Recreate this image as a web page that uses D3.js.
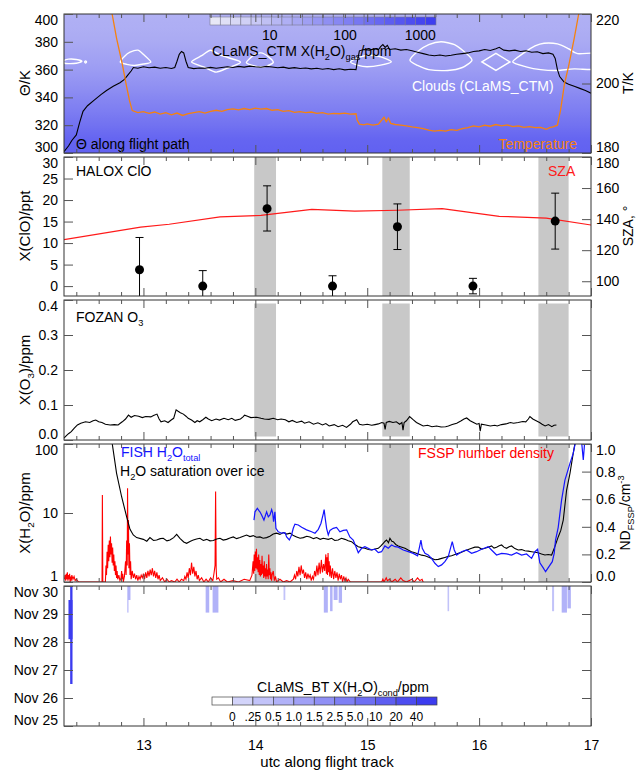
<!DOCTYPE html>
<html><head><meta charset="utf-8">
<script src="https://cdn.jsdelivr.net/npm/d3@7"></script>
<style>body{margin:0;background:#fff}svg{display:block}</style>
</head><body><svg id="c" width="636" height="772"></svg>
<script>
// ---------------- DATA ----------------
const timeTicks = [13, 14, 15, 16, 17];
const thetaTicks = [300, 320, 340, 360, 380, 400];
const tempTicks = [180, 200, 220];
const cloTicks = [0, 5, 10, 15, 20, 25, 30];
const szaTicks = [100, 120, 140, 160, 180];
const o3Ticks = [0, 0.1, 0.2, 0.3, 0.4];
const h2oTicks = [1, 10, 100];
const ndTicks = [0, 0.2, 0.4, 0.6, 0.8, 1.0];
const dayTicks = [25, 26, 27, 28, 29, 30];
const dayLabels = ["Nov 25", "Nov 26", "Nov 27", "Nov 28", "Nov 29", "Nov 30"];
const ctmBarTicks = [10, 100, 1000];
const btLevels = [0, 0.25, 0.5, 1.0, 1.5, 2.5, 5.0, 10, 20, 40];
const btLevelLabels = ["0", ".25", "0.5", "1.0", "1.5", "2.5", "5.0", "10", "20", "40"];

// shaded intervals (utc hours)
const bandStart = [13.99, 15.135, 16.53];
const bandEnd = [14.185, 15.38, 16.80];

// CLaMS_CTM H2O(gas) profile vs theta [K, ppm]
const ctmProfile = [[300,360],[305,330],[310,300],[315,240],[320,185],[325,150],[330,120],[335,100],[340,80],[345,65],[350,52],[355,43],[360,36],[365,31],[370,27],[375,24],[380,21],[385,19.5],[390,18],[395,17],[400,16]];

// Theta along flight path [utc, K]
const theta = [[12.29,301],[12.33,305],[12.36,309],[12.40,313],[12.43,322],[12.46,330],[12.50,334],[12.56,338],[12.62,342],[12.67,345],[12.73,348],[12.79,350.5],[12.83,353],[12.86,356],[12.89,359],[12.91,361.5],[12.95,361],[13.0,362],[13.05,361.3],[13.1,361.8],[13.15,361],[13.2,361.5],[13.25,360.8],[13.28,361.5],[13.30,366],[13.32,371],[13.34,373],[13.36,372],[13.38,366],[13.40,361.5],[13.45,360.7],[13.5,361.2],[13.55,361],[13.6,361.6],[13.65,361],[13.7,361.5],[13.75,362],[13.8,361.5],[13.85,362.3],[13.9,361.8],[13.95,362.5],[14.0,362],[14.05,361.7],[14.1,362.3],[14.15,361.9],[14.2,361.3],[14.25,361.8],[14.3,360.9],[14.35,361.4],[14.4,360.8],[14.45,361.2],[14.5,360.5],[14.55,361],[14.6,360.3],[14.65,360.8],[14.7,360],[14.75,360.6],[14.8,359.8],[14.85,360.3],[14.9,360],[14.91,365],[14.93,373.5],[14.97,374.5],[15.02,374],[15.07,375],[15.1,374.3],[15.12,376.5],[15.14,378],[15.16,376],[15.18,377.5],[15.2,374.5],[15.25,375],[15.3,374],[15.35,374.5],[15.4,373.5],[15.45,372.5],[15.5,371.5],[15.55,370.5],[15.6,370],[15.65,370.5],[15.7,369.8],[15.75,370.3],[15.8,371],[15.85,371.5],[15.9,372],[15.95,373],[16.0,373.5],[16.05,374.5],[16.1,373.8],[16.15,375],[16.18,376],[16.22,374],[16.27,373.5],[16.32,374],[16.37,373],[16.42,373.5],[16.47,372.5],[16.52,372.8],[16.57,371.5],[16.62,372],[16.66,371],[16.68,368],[16.70,360],[16.72,355],[16.76,351],[16.8,349.5],[16.85,348],[16.9,346.5],[16.95,345],[17.0,343]];

// Temperature [utc, K]
const temperature = [[12.70,223],[12.72,220],[12.76,213],[12.81,205.7],[12.85,199],[12.876,195],[12.90,192.2],[12.95,191.6],[13.0,191.9],[13.05,191.4],[13.1,191.8],[13.15,191.2],[13.2,191.6],[13.25,191.0],[13.3,191.5],[13.35,190.8],[13.4,191.3],[13.45,191.6],[13.5,191.9],[13.55,191.5],[13.6,192.0],[13.65,192.3],[13.7,192.0],[13.75,192.5],[13.8,192.7],[13.85,192.4],[13.9,192.8],[13.95,192.5],[14.0,192.9],[14.05,192.6],[14.1,192.8],[14.15,192.3],[14.2,192.5],[14.25,192.0],[14.3,192.2],[14.35,191.7],[14.4,191.9],[14.45,191.6],[14.5,191.8],[14.55,191.4],[14.6,191.6],[14.65,191.2],[14.7,191.4],[14.75,191.3],[14.8,191.5],[14.85,191.2],[14.9,191.3],[14.91,189.5],[14.93,188.3],[14.97,188.1],[15.0,188.4],[15.05,188.0],[15.1,188.3],[15.13,189.5],[15.15,190.3],[15.17,189.0],[15.19,190.0],[15.21,188.5],[15.25,188.2],[15.3,188.0],[15.35,187.8],[15.4,187.5],[15.45,187.3],[15.5,187.0],[15.55,186.6],[15.6,186.3],[15.65,186.5],[15.7,186.3],[15.75,186.7],[15.8,186.5],[15.85,187.0],[15.9,187.3],[15.95,187.8],[16.0,187.5],[16.05,188.0],[16.1,187.7],[16.15,188.2],[16.2,187.8],[16.25,188.1],[16.3,187.6],[16.35,187.8],[16.4,187.4],[16.45,187.6],[16.5,187.3],[16.55,187.4],[16.6,186.8],[16.63,187.3],[16.66,187.5],[16.70,188],[16.727,192.2],[16.745,196],[16.763,199.9],[16.80,205],[16.85,213],[16.89,220],[16.91,223]];

// CLaMS_CTM cloud contours [utc, K]
const cloudA = [[12.29,366.5],[12.33,367.5],[12.40,367.3],[12.45,366],[12.40,364.6],[12.33,364.3],[12.29,364.8]];
const cloudA2 = [[12.475,365.5],[12.483,366.3],[12.491,365.5],[12.483,364.7]];
const cloudB = [[12.793,365.5],[12.83,369.5],[12.88,372.5],[12.95,374],[13.0,371],[13.066,365.5],[13.0,364],[12.92,363],[12.85,363.8]];
const cloudC = [[13.43,365.5],[13.52,370],[13.60,373.9],[13.70,370],[13.867,365.5],[13.75,361],[13.65,358.2],[13.55,361.5]];
const cloudD = [[13.92,365],[13.98,370],[14.05,372],[14.12,369],[14.16,365],[14.08,362],[14.0,362.5]];
const cloudE = [[14.851,365.5],[14.93,369],[15.03,370.3],[15.13,369],[15.215,365.5],[15.12,363.2],[15.0,362],[14.92,363]];
const cloudF = [[15.382,366.7],[15.45,373],[15.55,378],[15.66,380],[15.78,378],[15.88,372],[15.936,366.7],[15.85,361.5],[15.72,359.4],[15.55,360],[15.45,363]];
const cloudG = [[16.025,365.5],[16.15,371.7],[16.276,365.5],[16.15,359.4]];
const cloudH = [[16.30,365.5],[16.40,372],[16.50,377],[16.58,379],[16.70,378.5],[16.80,375],[16.88,371.5],[17.1,371.5],[17.1,360.5],[16.85,360.5],[16.70,359.4],[16.55,360],[16.42,362]];

// HALOX ClO [utc, ppt, low, high]
const cloTime = [12.965, 13.53, 14.105, 14.69, 15.27, 15.945, 16.68];
const cloValue = [3.8, 0, 18.0, 0, 13.8, 0, 15.1];
const cloLow = [-4.0, -3.5, 12.8, -2.4, 8.5, -1.8, 8.6];
const cloHigh = [11.3, 3.6, 23.3, 2.4, 19.1, 1.8, 21.6];

// SZA [utc, deg]
const sza = [[12.29,126.8],[12.975,134.9],[13.23,136.7],[13.685,141.4],[14.05,142.4],[14.505,146.3],[14.888,145.2],[15.27,145.7],[15.67,146.8],[16.18,141.8],[16.60,140.7],[17.0,136.2]];

// FOZAN O3 [utc, ppm]
const ozone = [[12.29,0.005],[12.30,0.009],[12.33,0.018],[12.355,0.024],[12.38,0.033],[12.41,0.043],[12.44,0.048],[12.483,0.052],[12.52,0.05],[12.55,0.055],[12.574,0.057],[12.6,0.052],[12.629,0.05],[12.66,0.045],[12.702,0.043],[12.74,0.044],[12.774,0.043],[12.79,0.047],[12.811,0.052],[12.84,0.06],[12.866,0.071],[12.89,0.065],[12.92,0.07],[12.957,0.068],[12.99,0.064],[13.02,0.067],[13.066,0.066],[13.09,0.07],[13.121,0.074],[13.14,0.06],[13.157,0.052],[13.19,0.055],[13.22,0.05],[13.248,0.057],[13.27,0.062],[13.292,0.086],[13.31,0.082],[13.33,0.078],[13.357,0.074],[13.38,0.068],[13.40,0.062],[13.43,0.057],[13.46,0.05],[13.48,0.055],[13.503,0.052],[13.53,0.058],[13.558,0.065],[13.58,0.06],[13.61,0.055],[13.649,0.06],[13.68,0.057],[13.72,0.062],[13.758,0.058],[13.79,0.062],[13.82,0.056],[13.867,0.06],[13.89,0.066],[13.904,0.071],[13.93,0.068],[13.96,0.064],[14.013,0.065],[14.05,0.062],[14.08,0.06],[14.122,0.059],[14.16,0.062],[14.2,0.058],[14.23,0.06],[14.268,0.058],[14.3,0.052],[14.33,0.056],[14.37,0.05],[14.414,0.054],[14.44,0.048],[14.48,0.052],[14.52,0.045],[14.559,0.049],[14.6,0.043],[14.63,0.047],[14.66,0.04],[14.705,0.044],[14.74,0.038],[14.78,0.042],[14.815,0.036],[14.85,0.045],[14.87,0.052],[14.906,0.058],[14.93,0.045],[14.96,0.043],[15.0,0.045],[15.04,0.042],[15.07,0.044],[15.1,0.046],[15.13,0.05],[15.15,0.048],[15.16,0.03],[15.17,0.05],[15.197,0.053],[15.23,0.05],[15.26,0.052],[15.29,0.045],[15.31,0.05],[15.32,0.028],[15.33,0.05],[15.35,0.055],[15.379,0.067],[15.41,0.058],[15.44,0.05],[15.47,0.045],[15.5,0.04],[15.54,0.042],[15.579,0.038],[15.62,0.04],[15.66,0.037],[15.7,0.038],[15.725,0.04],[15.76,0.044],[15.8,0.048],[15.84,0.055],[15.865,0.06],[15.889,0.063],[15.92,0.055],[15.95,0.05],[15.98,0.045],[16.0,0.047],[16.01,0.025],[16.02,0.045],[16.06,0.043],[16.1,0.04],[16.14,0.042],[16.162,0.04],[16.2,0.044],[16.24,0.046],[16.28,0.05],[16.308,0.048],[16.35,0.05],[16.39,0.053],[16.417,0.052],[16.44,0.06],[16.454,0.067],[16.48,0.06],[16.51,0.055],[16.54,0.05],[16.563,0.045],[16.59,0.04],[16.62,0.044],[16.65,0.038],[16.67,0.042],[16.691,0.043]];

// FISH H2O total [utc, ppm]
const fishH2O = [[13.988,7.9],[13.997,10.4],[14.018,11.7],[14.032,10.8],[14.041,10.4],[14.056,9.35],[14.077,7.9],[14.092,9.4],[14.101,10.4],[14.116,8.8],[14.131,9.35],[14.146,11.2],[14.155,10.0],[14.163,7.5],[14.175,10.4],[14.184,6.0],[14.205,5.35],[14.235,5.1],[14.265,5.2],[14.28,4.5],[14.304,4.06],[14.324,4.8],[14.339,6.0],[14.354,6.9],[14.384,6.7],[14.414,6.2],[14.458,5.7],[14.503,5.35],[14.533,5.1],[14.563,5.8],[14.587,7.1],[14.607,9.7],[14.615,11.2],[14.625,8.3],[14.637,6.0],[14.652,4.8],[14.667,5.6],[14.696,6.0],[14.726,6.2],[14.756,5.35],[14.786,5.6],[14.816,5.7],[14.845,4.5],[14.875,4.06],[14.905,3.08],[14.92,2.66],[14.95,3.08],[14.979,3.25],[15.009,3.08],[15.039,2.91],[15.069,2.98],[15.099,2.66],[15.128,2.75],[15.158,3.33],[15.188,3.08],[15.218,3.44],[15.248,3.25],[15.277,3.2],[15.322,2.91],[15.367,2.75],[15.411,2.6],[15.45,2.4],[15.468,3.25],[15.48,4.06],[15.492,3.08],[15.516,2.6],[15.545,2.46],[15.575,2.2],[15.605,1.87],[15.635,1.67],[15.665,1.77],[15.694,1.97],[15.724,2.33],[15.748,3.25],[15.76,3.84],[15.778,2.91],[15.799,2.46],[15.843,2.75],[15.888,2.91],[15.933,2.6],[15.977,2.75],[16.022,2.98],[16.082,3.25],[16.111,2.91],[16.156,2.46],[16.201,2.6],[16.245,2.55],[16.29,2.46],[16.335,2.66],[16.38,2.46],[16.424,2.55],[16.469,2.2],[16.499,2.75],[16.523,2.98],[16.543,1.9],[16.573,1.6],[16.594,1.41],[16.624,1.67],[16.654,1.97],[16.671,2.6],[16.683,4.06],[16.707,6.2],[16.737,15.4],[16.767,30],[16.812,52.5],[16.841,73],[16.862,108],[16.886,130],[16.916,108],[16.931,58.6],[16.945,115],[16.96,150]];

// H2O saturation over ice [utc, ppm]
const iceSat = [[12.70,150],[12.716,115],[12.76,37.6],[12.805,17.2],[12.85,8.8],[12.88,5.8],[12.909,4.8],[12.939,4.4],[12.999,4.15],[13.03,3.9],[13.058,4.4],[13.09,4.0],[13.118,4.06],[13.15,4.25],[13.177,4.3],[13.21,3.95],[13.237,4.06],[13.27,4.4],[13.297,4.9],[13.326,4.3],[13.36,3.8],[13.386,3.64],[13.42,3.9],[13.446,4.06],[13.475,4.2],[13.505,4.3],[13.535,4.0],[13.565,4.15],[13.595,3.95],[13.624,4.0],[13.655,4.2],[13.684,4.3],[13.713,4.05],[13.743,4.15],[13.773,4.35],[13.803,4.5],[13.833,4.25],[13.863,4.4],[13.893,4.6],[13.922,4.8],[13.952,4.55],[13.982,4.7],[14.01,4.45],[14.041,4.5],[14.07,4.3],[14.101,4.4],[14.13,4.6],[14.16,4.95],[14.19,5.1],[14.22,4.9],[14.25,5.2],[14.28,4.95],[14.31,5.1],[14.34,4.7],[14.369,4.5],[14.4,4.3],[14.429,4.4],[14.46,4.6],[14.488,4.5],[14.52,4.25],[14.548,4.4],[14.58,4.15],[14.607,4.3],[14.652,4.15],[14.682,4.3],[14.71,4.0],[14.741,4.06],[14.77,4.3],[14.801,4.15],[14.83,3.95],[14.86,3.84],[14.89,3.5],[14.92,3.25],[14.95,3.15],[14.979,3.08],[15.01,2.95],[15.039,2.91],[15.07,3.0],[15.099,3.08],[15.12,3.3],[15.143,3.64],[15.16,3.9],[15.173,4.06],[15.19,3.7],[15.203,4.3],[15.22,3.9],[15.233,3.84],[15.255,3.5],[15.277,3.33],[15.31,3.2],[15.337,3.08],[15.366,2.9],[15.396,2.75],[15.426,2.65],[15.456,2.55],[15.486,2.45],[15.516,2.4],[15.545,2.3],[15.575,2.2],[15.605,2.1],[15.635,2.13],[15.665,2.2],[15.694,2.27],[15.724,2.35],[15.754,2.4],[15.784,2.5],[15.814,2.6],[15.843,2.7],[15.873,2.83],[15.903,2.95],[15.933,3.08],[15.962,3.2],[15.992,3.2],[16.022,3.0],[16.052,3.08],[16.082,3.2],[16.111,3.33],[16.133,3.1],[16.156,3.2],[16.18,3.35],[16.201,3.44],[16.222,3.2],[16.245,3.08],[16.268,3.25],[16.29,3.33],[16.32,3.05],[16.35,2.91],[16.38,2.95],[16.409,2.83],[16.44,2.8],[16.469,2.75],[16.5,2.7],[16.528,2.66],[16.558,2.55],[16.588,2.46],[16.618,2.5],[16.648,2.46],[16.677,3.25],[16.707,4.5],[16.73,5.6],[16.752,7.9],[16.782,21.5],[16.812,37.6],[16.841,73],[16.862,114],[16.88,150]];

// FSSP number density [utc, cm^-3]
const fsspND = [[12.295,0.02],[12.30,0.05],[12.305,0.01],[12.31,0.06],[12.315,0.02],[12.32,0.07],[12.325,0.01],[12.33,0.05],[12.335,0.02],[12.34,0.06],[12.345,0.0],[12.35,0.04],[12.355,0.01],[12.36,0.05],[12.37,0.02],[12.38,0.04],[12.39,0.01],[12.40,0.02],[12.42,0.0],[12.50,0.0],[12.60,0.0],[12.63,0.0],[12.633,0.63],[12.637,0.0],[12.66,0.0],[12.665,0.12],[12.67,0.05],[12.675,0.22],[12.68,0.10],[12.685,0.27],[12.69,0.15],[12.695,0.30],[12.70,0.18],[12.705,0.33],[12.71,0.2],[12.715,0.28],[12.72,0.14],[12.725,0.25],[12.73,0.12],[12.735,0.2],[12.74,0.08],[12.745,0.15],[12.75,0.05],[12.755,0.12],[12.76,0.03],[12.765,0.08],[12.77,0.02],[12.78,0.05],[12.79,0.01],[12.80,0.03],[12.805,0.08],[12.81,0.02],[12.815,0.06],[12.82,0.0],[12.83,0.04],[12.84,0.15],[12.845,0.05],[12.85,0.3],[12.855,0.12],[12.858,0.68],[12.862,0.2],[12.866,0.45],[12.87,0.1],[12.875,0.28],[12.88,0.05],[12.885,0.15],[12.89,0.02],[12.90,0.08],[12.91,0.03],[12.92,0.06],[12.93,0.02],[12.94,0.05],[12.95,0.01],[12.96,0.04],[12.97,0.02],[12.98,0.05],[12.99,0.03],[13.0,0.06],[13.01,0.02],[13.02,0.07],[13.03,0.03],[13.04,0.08],[13.05,0.04],[13.06,0.09],[13.07,0.05],[13.08,0.1],[13.09,0.04],[13.10,0.08],[13.11,0.03],[13.12,0.07],[13.13,0.02],[13.14,0.05],[13.15,0.01],[13.17,0.03],[13.19,0.0],[13.21,0.02],[13.23,0.0],[13.25,0.01],[13.28,0.0],[13.3,0.02],[13.32,0.0],[13.34,0.02],[13.36,0.01],[13.37,0.04],[13.38,0.02],[13.39,0.07],[13.40,0.03],[13.41,0.1],[13.42,0.05],[13.43,0.14],[13.44,0.06],[13.45,0.11],[13.46,0.04],[13.47,0.08],[13.48,0.02],[13.49,0.05],[13.5,0.01],[13.52,0.03],[13.54,0.0],[13.56,0.02],[13.58,0.0],[13.60,0.03],[13.62,0.01],[13.63,0.06],[13.64,0.12],[13.645,0.655],[13.65,0.1],[13.655,0.02],[13.67,0.03],[13.69,0.0],[13.72,0.02],[13.75,0.0],[13.8,0.01],[13.85,0.0],[13.9,0.02],[13.95,0.01],[13.97,0.05],[13.98,0.15],[13.985,0.06],[13.99,0.2],[13.995,0.08],[14.0,0.22],[14.005,0.1],[14.01,0.24],[14.015,0.09],[14.02,0.18],[14.025,0.07],[14.03,0.2],[14.035,0.05],[14.04,0.16],[14.045,0.04],[14.05,0.13],[14.055,0.05],[14.06,0.19],[14.065,0.06],[14.07,0.12],[14.075,0.03],[14.08,0.15],[14.085,0.04],[14.09,0.1],[14.095,0.02],[14.1,0.13],[14.105,0.04],[14.11,0.09],[14.115,0.02],[14.12,0.2],[14.125,0.05],[14.13,0.1],[14.135,0.02],[14.14,0.07],[14.145,0.01],[14.15,0.05],[14.16,0.08],[14.17,0.01],[14.18,0.04],[14.19,0.0],[14.22,0.02],[14.25,0.0],[14.28,0.01],[14.31,0.0],[14.34,0.02],[14.35,0.05],[14.36,0.02],[14.37,0.08],[14.38,0.04],[14.39,0.11],[14.4,0.05],[14.41,0.12],[14.42,0.06],[14.43,0.09],[14.44,0.03],[14.45,0.07],[14.46,0.02],[14.47,0.06],[14.48,0.03],[14.49,0.05],[14.5,0.01],[14.51,0.04],[14.52,0.02],[14.53,0.08],[14.54,0.04],[14.55,0.12],[14.56,0.05],[14.57,0.14],[14.58,0.06],[14.59,0.16],[14.6,0.07],[14.61,0.13],[14.62,0.08],[14.63,0.2],[14.635,0.06],[14.64,0.18],[14.645,0.05],[14.65,0.21],[14.655,0.07],[14.66,0.15],[14.665,0.04],[14.67,0.12],[14.68,0.03],[14.69,0.1],[14.7,0.02],[14.71,0.08],[14.72,0.03],[14.73,0.07],[14.74,0.01],[14.75,0.06],[14.76,0.02],[14.77,0.05],[14.78,0.0],[14.79,0.04],[14.8,0.01],[14.81,0.03],[14.82,0.0],[14.83,0.02],[14.85,0.0],[14.9,0.0],[15.0,0.0],[15.13,0.0],[15.14,0.02],[15.15,0.0],[15.17,0.03],[15.18,0.01],[15.2,0.02],[15.22,0.0],[15.25,0.02],[15.27,0.0],[15.3,0.03],[15.32,0.01],[15.35,0.0],[15.4,0.02],[15.42,0.0],[15.45,0.03],[15.47,0.01],[15.49,0.02],[15.5,0.0]];

// CLaMS_BT condensed H2O along back trajectories: [utc start, utc end, day low, day high, ppm]
const btStart = [12.345, 12.330, 12.856, 12.862, 13.556, 13.618, 14.252, 14.612, 14.668, 14.700, 14.745, 15.718, 16.652, 16.738, 16.790];
const btEnd   = [12.366, 12.366, 12.866, 12.884, 13.588, 13.670, 14.268, 14.648, 14.690, 14.735, 14.775, 15.732, 16.670, 16.785, 16.820];
const btDayLow  = [26.5, 28.1, 29.05, 29.5, 29.05, 29.05, 29.5, 29.05, 29.1, 29.5, 29.4, 29.1, 29.1, 29.05, 29.2];
const btDayHigh = [30, 29.5, 30, 30, 30, 30, 30, 30, 30, 30, 30, 30, 30, 30, 30];
const btValue = [40, 40, 0.5, 0.5, 0.5, 0.5, 0.25, 0.5, 0.5, 0.5, 0.5, 0.25, 0.25, 0.5, 0.5];

// ---------------- DRAWING ----------------
const FONT = '"Liberation Sans", Arial, Helvetica, sans-serif';
const svg = d3.select("#c");
const L = 64, R = 591;
const P = {top:[14,153], clo:[157,296], o3:[300,440], h2o:[444,582], bt:[586,726]};

const x = d3.scaleLinear().domain([12.29, 17]).range([L, R]);
const yTheta = d3.scaleLinear().domain([300, 400]).range([P.top[1], P.top[0]]);
const yTemp = d3.scaleLinear().domain([180, 220]).range([P.top[1], P.top[0]]);
const yClo = d3.scaleLinear().domain([-2.3, 30]).range([P.clo[1], P.clo[0]]);
const ySza = d3.scaleLinear().domain([90.5, 180]).range([P.clo[1], P.clo[0]]);
const yO3 = d3.scaleLinear().domain([0, 0.4]).range([P.o3[1], P.o3[0]]);
const yH2O = d3.scaleLog().domain([1, 100]).range([P.h2o[1], P.h2o[0]]);
const yND = d3.scaleLinear().domain([0, 1]).range([P.h2o[1], P.h2o[0]]);
const yDay = d3.scaleLinear().domain([25, 30]).range([P.bt[1], P.bt[0]]);

const ctmInterp = d3.interpolateRgb("#ececf6", "#3a3aef");
const ctmNorm = d3.scaleLog().domain([1.6, 1620]).range([0, 1]).clamp(true);
const ctmColor = v => ctmInterp(ctmNorm(v));
const btCellColors = [ "#ffffff" ].concat(d3.range(10).map(i => d3.interpolateRgb("#d3d4fa", "#3c3cef")(i / 9)));
const btColor = d3.scaleThreshold().domain(btLevels).range(["#ffffff"].concat(btCellColors.slice(1)));

const defs = svg.append("defs");
function clip(id, p) {
  defs.append("clipPath").attr("id", id).append("rect")
    .attr("x", L).attr("y", p[0]).attr("width", R - L).attr("height", p[1] - p[0]);
  return `url(#${id})`;
}

function rich(sel, parts, fs) {
  let off = 0;
  parts.forEach(([s, t]) => {
    const ts = sel.append("tspan").text(s);
    const target = t === "sub" ? fs * 0.25 : t === "sup" ? -fs * 0.42 : 0;
    if (target !== off) ts.attr("dy", target - off);
    if (t === "sub" || t === "sup") ts.attr("font-size", fs * 0.66);
    off = target;
  });
  return sel;
}
function label(xp, yp, parts, opt = {}) {
  const fs = opt.fs || 14;
  const t = svg.append("text").attr("x", xp).attr("y", yp)
    .attr("font-family", FONT).attr("font-size", fs)
    .attr("fill", opt.fill || "#000").attr("text-anchor", opt.anchor || "start");
  return rich(t, parts, fs);
}
function vlabel(xp, yp, parts, opt = {}) {
  const fs = opt.fs || 15;
  const t = svg.append("text").attr("transform", `translate(${xp},${yp}) rotate(-90)`)
    .attr("font-family", FONT).attr("font-size", fs).attr("fill", "#000").attr("text-anchor", "middle");
  return rich(t, parts, fs);
}

function styleAxis(g) {
  g.select(".domain").remove();
  g.selectAll(".tick line").attr("stroke", "#555").attr("stroke-width", 1);
  g.attr("font-size", 14).attr("font-family", FONT);
  g.selectAll("text").attr("fill", "#000");
}
function yAxis(scale, vals, side, p, fmt) {
  let ax = (side === "left" ? d3.axisLeft(scale) : d3.axisRight(scale))
    .tickValues(vals).tickSize(-9).tickPadding(side === "left" ? 6 : 5);
  if (fmt) ax = ax.tickFormat(fmt);
  const g = svg.append("g").attr("transform", `translate(${side === "left" ? L : R},0)`).call(ax);
  styleAxis(g);
  g.selectAll(".tick").each(function (d) {
    const y = scale(d);
    const cy = Math.max(p[0] + 6, Math.min(p[1] - 6, y));
    d3.select(this).select("text").attr("y", cy - y);
  });
  return g;
}
const minorTimes = d3.range(12.4, 16.95, 0.2).filter(v => Math.abs(v - Math.round(v)) > 0.02);
function xAxes(p, withLabels) {
  const none = () => "";
  svg.append("g").attr("transform", `translate(0,${p[0]})`)
    .call(d3.axisTop(x).tickValues(timeTicks).tickSize(-8).tickFormat(none)).call(styleAxis);
  svg.append("g").attr("transform", `translate(0,${p[0]})`)
    .call(d3.axisTop(x).tickValues(minorTimes).tickSize(-4).tickFormat(none)).call(styleAxis);
  svg.append("g").attr("transform", `translate(0,${p[1]})`)
    .call(d3.axisBottom(x).tickValues(timeTicks).tickSize(-8).tickPadding(14)
      .tickFormat(withLabels ? d3.format("d") : none)).call(styleAxis);
  svg.append("g").attr("transform", `translate(0,${p[1]})`)
    .call(d3.axisBottom(x).tickValues(minorTimes).tickSize(-4).tickFormat(none)).call(styleAxis);
}
function frame(p) {
  svg.append("rect").attr("x", L).attr("y", p[0]).attr("width", R - L).attr("height", p[1] - p[0])
    .attr("fill", "none").attr("stroke", "#333").attr("stroke-width", 1);
}
function bands(p, y0, y1, cp) {
  svg.append("g").attr("clip-path", cp).selectAll("rect").data(d3.zip(bandStart, bandEnd)).join("rect")
    .attr("x", d => x(d[0])).attr("width", d => x(d[1]) - x(d[0]))
    .attr("y", y0).attr("height", y1 - y0).attr("fill", "#c8c8c8");
}
const line = (ys) => d3.line().x(d => x(d[0])).y(d => ys(d[1]));

// ===== Panel 1: theta / temperature =====
{
  const p = P.top, cp = clip("cTop", p);
  const grad = defs.append("linearGradient").attr("id", "ctmGrad").attr("gradientUnits", "userSpaceOnUse")
    .attr("x1", 0).attr("x2", 0).attr("y1", yTheta(300)).attr("y2", yTheta(400));
  ctmProfile.forEach(([th, v]) => grad.append("stop").attr("offset", (th - 300) / 100).attr("stop-color", ctmColor(v)));
  svg.append("rect").attr("x", L).attr("y", p[0]).attr("width", R - L).attr("height", p[1] - p[0]).attr("fill", "url(#ctmGrad)");

  const g = svg.append("g").attr("clip-path", cp);
  const cl = d3.line().x(d => x(d[0])).y(d => yTheta(d[1])).curve(d3.curveCardinalClosed.tension(0.3));
  const dl = d3.line().x(d => x(d[0])).y(d => yTheta(d[1])).curve(d3.curveLinearClosed);
  [cloudA, cloudA2, cloudB, cloudC, cloudD, cloudE, cloudF, cloudH].forEach(c =>
    g.append("path").attr("d", cl(c)).attr("fill", "none").attr("stroke", "#fff").attr("stroke-width", 1.4));
  g.append("path").attr("d", dl(cloudG)).attr("fill", "none").attr("stroke", "#fff").attr("stroke-width", 1.4);

  g.append("path").attr("d", line(yTheta)(theta)).attr("fill", "none").attr("stroke", "#000").attr("stroke-width", 1.1);
  g.append("path").attr("d", line(yTemp)(temperature)).attr("fill", "none").attr("stroke", "#f5820f").attr("stroke-width", 1.3);

  // colour bar (CLaMS_CTM)
  const nCells = 22;
  const cbx = d3.scaleLinear().domain([0, nCells]).range([210, 436]);
  const cbLog = d3.scaleLog().domain([1.6, 1620]).range([210, 436]);
  svg.append("g").selectAll("rect").data(d3.range(nCells)).join("rect")
    .attr("x", i => cbx(i)).attr("width", cbx(1) - cbx(0)).attr("y", 17).attr("height", 8)
    .attr("fill", i => ctmColor(cbLog.invert(cbx(i + 0.5))))
    .attr("stroke", "#7a7a90").attr("stroke-width", 0.6);
  svg.append("g").selectAll("line").data(d3.range(nCells + 1)).join("line")
    .attr("x1", i => cbx(i)).attr("x2", i => cbx(i)).attr("y1", 14).attr("y2", 17)
    .attr("stroke", "#555").attr("stroke-width", 0.7);
  svg.append("g").selectAll("text").data(ctmBarTicks).join("text")
    .attr("x", d => cbLog(d)).attr("y", 40).attr("text-anchor", "middle")
    .attr("font-family", FONT).attr("font-size", 14).text(d => d);
  label(212, 56, [["CLaMS_CTM X(H"], ["2", "sub"], ["O)"], ["gas", "sub"], ["/ppm"]]);

  label(76, 149, [["Θ along flight path"]]);
  label(577, 149, [["Temperature"]], {fill: "#f5820f", anchor: "end"});
  label(412, 91, [["Clouds (CLaMS_CTM)"]], {fill: "#fff"});

  frame(p);
  xAxes(p, false);
  yAxis(yTheta, thetaTicks, "left", p);
  yAxis(yTemp, tempTicks, "right", p);
  vlabel(30, 83, [["Θ/K"]]);
  vlabel(633, 83, [["T/K"]], {fs: 14});
}

// ===== Panel 2: ClO / SZA =====
{
  const p = P.clo, cp = clip("cClo", p);
  bands(p, p[0], p[1], cp);
  const g = svg.append("g").attr("clip-path", cp);
  g.append("path").attr("d", line(ySza)(sza)).attr("fill", "none").attr("stroke", "#ff1a1a").attr("stroke-width", 1.2);
  const clo = cloTime.map((t, i) => ({t, v: cloValue[i], lo: cloLow[i], hi: cloHigh[i]}));
  g.selectAll(".eb").data(clo).join("line").attr("class", "eb")
    .attr("x1", d => x(d.t)).attr("x2", d => x(d.t)).attr("y1", d => yClo(d.lo)).attr("y2", d => yClo(d.hi))
    .attr("stroke", "#000").attr("stroke-width", 1);
  ["lo", "hi"].forEach(k => g.selectAll(".cap" + k).data(clo).join("line").attr("class", "cap" + k)
    .attr("x1", d => x(d.t) - 4).attr("x2", d => x(d.t) + 4).attr("y1", d => yClo(d[k])).attr("y2", d => yClo(d[k]))
    .attr("stroke", "#000").attr("stroke-width", 1));
  g.selectAll("circle").data(clo).join("circle")
    .attr("cx", d => x(d.t)).attr("cy", d => yClo(d.v)).attr("r", 4.5).attr("fill", "#000");
  label(76, 176, [["HALOX ClO"]]);
  label(548, 176, [["SZA"]], {fill: "#ff1a1a"});
  frame(p);
  xAxes(p, false);
  yAxis(yClo, cloTicks, "left", p);
  yAxis(ySza, szaTicks, "right", p);
  vlabel(30, 226, [["X(ClO)/ppt"]]);
  vlabel(633, 226, [["SZA, °"]], {fs: 14});
}

// ===== Panel 3: O3 =====
{
  const p = P.o3, cp = clip("cO3", p);
  bands(p, yO3(0.39), yO3(0.01), cp);
  const g = svg.append("g").attr("clip-path", cp);
  g.append("path").attr("d", line(yO3)(ozone)).attr("fill", "none").attr("stroke", "#000").attr("stroke-width", 1.1);
  label(76, 322, [["FOZAN O"], ["3", "sub"]]);
  frame(p);
  xAxes(p, false);
  yAxis(yO3, o3Ticks, "left", p, d3.format(".1f"));
  yAxis(yO3, [0.1, 0.2, 0.3], "right", p, () => "");
  vlabel(30, 370, [["X(O"], ["3", "sub"], [")/ppm"]]);
}

// ===== Panel 4: H2O / FSSP =====
{
  const p = P.h2o, cp = clip("cH2O", p);
  bands(p, p[0], p[1], cp);
  const g = svg.append("g").attr("clip-path", cp);
  g.append("path").attr("d", line(yND)(fsspND)).attr("fill", "none").attr("stroke", "#ff0000").attr("stroke-width", 1.1);
  g.append("path").attr("d", line(yH2O)(iceSat)).attr("fill", "none").attr("stroke", "#000").attr("stroke-width", 1.1);
  g.append("path").attr("d", line(yH2O)(fishH2O)).attr("fill", "none").attr("stroke", "#1414ff").attr("stroke-width", 1.2);
  label(121, 457, [["FISH H"], ["2", "sub"], ["O"], ["total", "sub"]], {fill: "#1414ff"});
  label(120, 476, [["H"], ["2", "sub"], ["O saturation over ice"]]);
  label(418, 458, [["FSSP number density"]], {fill: "#ff0000"});
  frame(p);
  xAxes(p, false);
  yAxis(yH2O, h2oTicks, "left", p, d3.format("d"));
  yAxis(yND, ndTicks, "right", p, d3.format(".1f"));
  vlabel(30, 513, [["X(H"], ["2", "sub"], ["O)/ppm"]]);
  vlabel(630, 513, [["ND"], ["FSSP", "sub"], ["/cm"], ["-3", "sup"]], {fs: 14});
}

// ===== Panel 5: CLaMS_BT =====
{
  const p = P.bt, cp = clip("cBT", p);
  const bt = btStart.map((t0, i) => ({t0, t1: btEnd[i], lo: btDayLow[i], hi: btDayHigh[i], v: btValue[i]}));
  svg.append("g").attr("clip-path", cp).selectAll("rect").data(bt).join("rect")
    .attr("x", d => x(d.t0)).attr("width", d => Math.max(1, x(d.t1) - x(d.t0)))
    .attr("y", d => yDay(d.hi)).attr("height", d => yDay(d.lo) - yDay(d.hi))
    .attr("fill", d => btColor(d.v));
  // colour bar
  const cb = d3.scaleBand().domain(d3.range(11)).range([212, 437]);
  svg.append("g").selectAll("rect").data(d3.range(11)).join("rect")
    .attr("x", i => cb(i)).attr("width", cb.bandwidth()).attr("y", 697).attr("height", 8)
    .attr("fill", i => btCellColors[i]).attr("stroke", "#444").attr("stroke-width", 0.7);
  svg.append("g").selectAll("text").data(btLevelLabels).join("text")
    .attr("x", (d, i) => cb(i + 1)).attr("y", 721).attr("text-anchor", "middle")
    .attr("font-family", FONT).attr("font-size", 12).text(d => d);
  label(343, 692, [["CLaMS_BT X(H"], ["2", "sub"], ["O)"], ["cond", "sub"], ["/ppm"]], {anchor: "middle"});
  frame(p);
  xAxes(p, true);
  yAxis(yDay, dayTicks, "left", p, (d, i) => dayLabels[i]);
  yAxis(yDay, [26, 27, 28, 29], "right", p, () => "");
  label(327, 767, [["utc along flight track"]], {anchor: "middle", fs: 15});
}
</script></body></html>
